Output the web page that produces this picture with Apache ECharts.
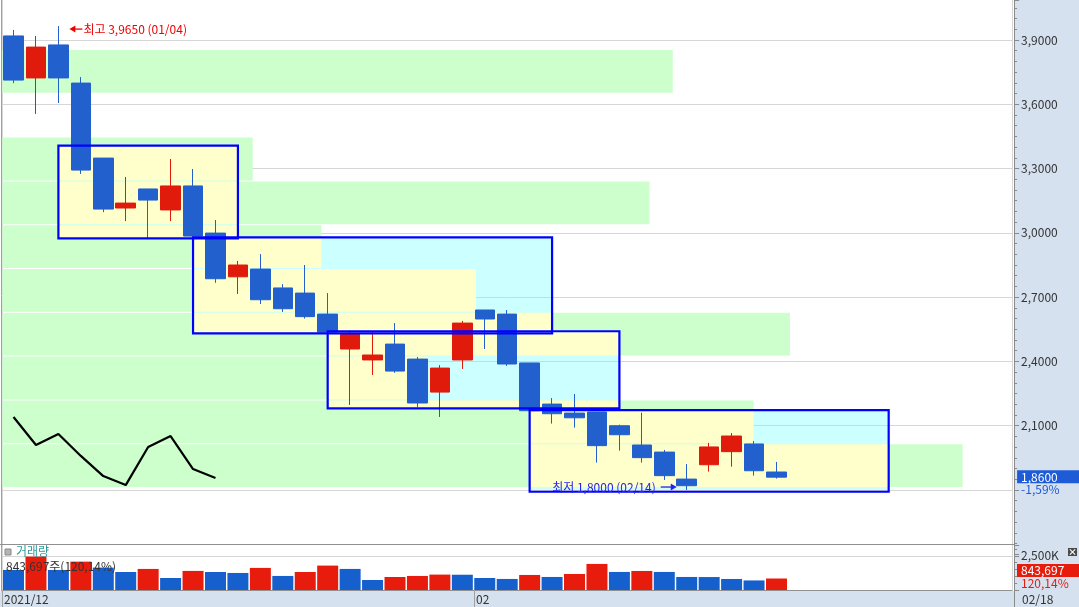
<!DOCTYPE html>
<html><head><meta charset="utf-8">
<script src="https://cdn.jsdelivr.net/npm/echarts@6.0.0/dist/echarts.min.js"></script>
<style>html,body{margin:0;padding:0;background:#fff;overflow:hidden}#main{width:1079px;height:607px}</style>
</head><body><div id="main"></div>
<script>
// ---------------- data ----------------
const dates = ['2021/12/31','2022/01/03','2022/01/04','2022/01/05','2022/01/06','2022/01/07','2022/01/10','2022/01/11','2022/01/12','2022/01/13','2022/01/14','2022/01/18','2022/01/19','2022/01/20','2022/01/21','2022/01/24','2022/01/25','2022/01/26','2022/01/27','2022/01/28','2022/01/31','2022/02/01','2022/02/02','2022/02/03','2022/02/04','2022/02/07','2022/02/08','2022/02/09','2022/02/10','2022/02/11','2022/02/14','2022/02/15','2022/02/16','2022/02/17','2022/02/18'];
const openP  = [3.919,3.723,3.877,3.699,3.349,3.116,3.205,3.107,3.219,2.999,2.795,2.831,2.743,2.719,2.621,2.458,2.407,2.481,2.411,2.257,2.407,2.640,2.621,2.393,2.201,2.159,2.164,2.100,2.010,1.977,1.851,1.918,1.979,2.015,1.884];
const closeP = [3.713,3.867,3.723,3.293,3.111,3.139,3.153,3.219,2.985,2.786,2.850,2.688,2.646,2.609,2.537,2.528,2.430,2.355,2.206,2.369,2.579,2.598,2.388,2.170,2.156,2.137,2.007,2.058,1.951,1.867,1.820,2.001,2.052,1.890,1.860];
const highP  = [3.947,3.919,3.965,3.727,3.349,3.261,3.205,3.345,3.298,3.060,2.869,2.901,2.761,2.850,2.719,2.542,2.539,2.579,2.421,2.383,2.589,2.640,2.640,2.393,2.229,2.248,2.164,2.105,2.161,1.987,1.921,2.020,2.066,2.029,1.931];
const lowP   = [3.699,3.555,3.606,3.275,3.097,3.055,2.971,3.055,2.985,2.767,2.715,2.668,2.631,2.600,2.535,2.197,2.337,2.347,2.187,2.141,2.365,2.458,2.379,2.165,2.110,2.091,1.928,1.984,1.928,1.847,1.800,1.886,1.909,1.867,1.853];
const volumes = [1470000,2450000,1470000,2080000,1640000,1320000,1545000,880000,1400000,1320000,1250000,1620000,1030000,1320000,1790000,1545000,735000,955000,1030000,1130000,1120000,880000,810000,1103000,956000,1176000,1912000,1324000,1397000,1324000,956000,950000,809000,702262,843697];
const lineValues = [2.141,2.010,2.061,1.959,1.865,1.823,2.001,2.052,1.898,1.856];
const priceLabelValues = [2.1,2.4,2.7,3.0,3.3,3.6,3.9];
const volumeTickValue = 2500000;
// price bands of the volume profile (edges) and their widths (% of plot width)
const bandEdges = [1.809,2.014,2.218,2.423,2.627,2.831,3.036,3.240,3.445,3.649,3.853];
const profileVolume = [95.1,74.4,42.1,78.0,46.9,31.6,64.1,24.8,0,66.4];
// boxes: from/to candle index, top/bottom price
const boxStart = [2,8,14,23];
const boxEnd = [10,24,27,39];
const boxTop = [3.407,2.979,2.541,2.173];
const boxBottom = [2.974,2.531,2.181,1.792];
const xLabelIndex = [0,21];
const futureSlots = 10;

// ---------------- helpers ----------------
const n = dates.length;
const cats = dates.concat(Array.from({length:futureSlots},(_,i)=>'f'+i));
const UP='#E01B0C', DOWN='#2160CD', VUP='#E81C0C', VDOWN='#1560CC';
const GREEN='#CCFFCC', YELLOW='#FFFFCC', CYAN='#CCFFFF', BOXLINE='#0000FF';
const FONT='"Noto Sans CJK KR","Noto Sans",sans-serif';
const dec = (v,d)=>v.toFixed(d).replace('.',',');
const thou = v=>String(Math.round(v)).replace(/\B(?=(\d{3})+(?!\d))/g,',');

let hiIdx=0, loIdx=0;
for(let i=0;i<n;i++){ if(highP[i]>highP[hiIdx]) hiIdx=i; if(lowP[i]<lowP[loIdx]) loIdx=i; }
const lastClose=closeP[n-1], prevClose=closeP[n-2];
const chg=(lastClose-prevClose)/prevClose*100;
const lastVol=volumes[n-1], volPct=lastVol/volumes[n-2]*100;

const chart = echarts.init(document.getElementById('main'), null, {renderer:'canvas'});

function bandRender(params, api){
  const w=api.value(0), lo=api.value(1), hi=api.value(2);
  if(!(w>0)) return null;
  const a=api.coord([0,hi]), b=api.coord([w,lo]);
  const top=a[1], bot=b[1]-1;
  const children=[{type:'rect',shape:{x:a[0],y:top,width:b[0]-a[0],height:bot-top},style:{fill:GREEN}}];
  for(let k=0;k<boxStart.length;k++){
    const bx0=chart.convertToPixel({xAxisIndex:0},boxStart[k]);
    const bx1=chart.convertToPixel({xAxisIndex:0},boxEnd[k]);
    const by0=api.coord([0,boxTop[k]])[1], by1=api.coord([0,boxBottom[k]])[1];
    const x0=Math.max(a[0],bx0), x1=Math.min(b[0],bx1), y0=Math.max(top,by0), y1=Math.min(bot,by1);
    if(x1>x0&&y1>y0) children.push({type:'rect',shape:{x:x0,y:y0,width:x1-x0,height:y1-y0},style:{fill:YELLOW}});
  }
  return {type:'group',children};
}
function boxRender(fill){
  return function(params, api){
    const a=api.coord([api.value(0),api.value(2)]), b=api.coord([api.value(1),api.value(3)]);
    const shape={x:a[0],y:a[1],width:b[0]-a[0],height:b[1]-a[1]};
    return fill ? {type:'rect',shape,style:{fill:CYAN}}
                : {type:'rect',shape,style:{fill:'none',stroke:BOXLINE,lineWidth:2.2}};
  };
}
const boxData=boxStart.map((s,k)=>[s,boxEnd[k],boxTop[k],boxBottom[k]]);

function annotRender(params, api){
  const kind=api.value(2);
  const p=api.coord([api.value(0),api.value(1)]);
  const ch=[];
  if(kind===0){
    const x=p[0]+11, y=p[1]+3, col='#F00000';
    ch.push({type:'polygon',shape:{points:[[x,y],[x+6,y-3.5],[x+6,y+3.5]]},style:{fill:col}});
    ch.push({type:'line',shape:{x1:x+5,y1:y,x2:x+13,y2:y},style:{stroke:col,lineWidth:1.3}});
    ch.push({type:'text',x:x+14,y:y,style:{text:'최고 '+dec(highP[hiIdx],4)+' ('+dates[hiIdx].slice(5)+')',fill:col,font:'12px '+FONT,align:'left',verticalAlign:'middle'}});
  } else {
    const x=p[0]-10, y=p[1]-3, col='#2424F0';
    ch.push({type:'polygon',shape:{points:[[x,y],[x-6,y-3.5],[x-6,y+3.5]]},style:{fill:col}});
    ch.push({type:'line',shape:{x1:x-16,y1:y,x2:x-5,y2:y},style:{stroke:col,lineWidth:1.3}});
    ch.push({type:'text',x:x-21,y:y,style:{text:'최저 '+dec(lowP[loIdx],4)+' ('+dates[loIdx].slice(5)+')',fill:col,font:'12px '+FONT,align:'right',verticalAlign:'middle'}});
  }
  return {type:'group',children:ch};
}
function priceTagRender(params, api){
  const cs=params.coordSys;
  const y=api.coord([api.value(0),api.value(1)])[1];
  const x0=cs.x+cs.width+5;
  return {type:'group',children:[
    {type:'rect',shape:{x:x0,y:y-7,width:1079-x0,height:13},style:{fill:'#1E5BD6'}},
    {type:'text',x:x0+4,y:y,style:{text:dec(lastClose,4),fill:'#fff',font:'12px '+FONT,align:'left',verticalAlign:'middle'}},
    {type:'text',x:x0+4,y:y+12,style:{text:dec(chg,2)+'%',fill:'#1E5BD6',font:'12px '+FONT,align:'left',verticalAlign:'middle'}}
  ]};
}
function xLabelRender(params, api){
  const i=api.value(0);
  const p=api.coord([i,0]);
  const half=api.size([1,0])[0]/2;
  const cs=params.coordSys;
  const x=Math.round(p[0]-half)+0.5;
  const txt=i===0?dates[0].slice(0,7):dates[i].slice(5,7);
  return {type:'group',children:[
    {type:'line',shape:{x1:x,y1:cs.y+cs.height,x2:x,y2:607},style:{stroke:'#A0A0A0',lineWidth:1}},
    {type:'text',x:x+1.5,y:cs.y+cs.height+9,style:{text:txt,fill:'#333',font:'12px '+FONT,align:'left',verticalAlign:'middle'}}
  ]};
}

const option = {
  animation:false,
  textStyle:{fontFamily:FONT},
  grid:[
    {left:2.3, right:66.9, top:0, height:554.3},
    {left:2.3, right:66.9, top:545, height:45}
  ],
  xAxis:[
    {type:'category',data:cats,gridIndex:0,boundaryGap:true,z:1,axisLine:{show:false,onZero:false},axisTick:{show:false},axisLabel:{show:false},
     splitLine:{show:true,interval:(i)=>i===21,lineStyle:{color:'#D6D6D6'}}},
    {type:'category',data:cats,gridIndex:1,boundaryGap:true,z:1,axisLine:{show:true,onZero:false,lineStyle:{color:'#909090'}},axisTick:{show:false},axisLabel:{show:false},
     splitLine:{show:true,interval:(i)=>i===21,lineStyle:{color:'#D6D6D6'}}},
    {type:'value',gridIndex:0,min:0,max:100,show:false,axisLine:{show:false,onZero:false},axisTick:{show:false},axisLabel:{show:false},splitLine:{show:false}}
  ],
  yAxis:[
    {type:'value',gridIndex:0,position:'right',offset:2,min:1.5,max:4.0867,interval:0.3,z:1,
     axisLine:{show:true,onZero:false,lineStyle:{color:'#8A8A8A'}},
     axisTick:{show:true,length:5,lineStyle:{color:'#8A8A8A'}},
     minorTick:{show:true,splitNumber:6,length:3,lineStyle:{color:'#8A8A8A'}},
     axisLabel:{color:'#333',fontSize:12,margin:7,formatter:(v)=>priceLabelValues.some(t=>Math.abs(t-v)<1e-6)?dec(v,4):''},
     splitLine:{show:true,showMinLine:false,showMaxLine:false,lineStyle:{color:'#D6D6D6'}}},
    {type:'value',gridIndex:1,position:'right',offset:2,min:0,max:3300000,interval:2500000,z:1,
     axisLine:{show:true,onZero:false,lineStyle:{color:'#8A8A8A'}},
     axisTick:{show:true,length:5,lineStyle:{color:'#8A8A8A'}},
     minorTick:{show:true,splitNumber:5,length:3,lineStyle:{color:'#8A8A8A'}},
     axisLabel:{color:'#333',fontSize:12,margin:7,formatter:(v)=>v===volumeTickValue?thou(v/1000)+'K':''},
     splitLine:{show:true,showMinLine:false,showMaxLine:false,lineStyle:{color:'#D6D6D6'}}}
  ],
  graphic:[
    {type:'rect',z:-10,shape:{x:1014,y:0,width:65,height:607},style:{fill:'#D5E1EF'}},
    {type:'rect',z:-10,shape:{x:0,y:591,width:1014,height:16},style:{fill:'#D5E1EF'}},
    {type:'line',z:50,shape:{x1:1.5,y1:0,x2:1.5,y2:591},style:{stroke:'#A0A0A0',lineWidth:1}},
    {type:'line',z:50,shape:{x1:0,y1:544.5,x2:1014,y2:544.5},style:{stroke:'#909090',lineWidth:1}},
    {type:'line',z:50,shape:{x1:1014.5,y1:590,x2:1014.5,y2:607},style:{stroke:'#8A8A8A',lineWidth:1}},
    {type:'rect',z:50,shape:{x:5,y:549,width:6,height:6},style:{fill:'#B4B4B4',stroke:'#8A8A8A',lineWidth:1}},
    {type:'text',z:50,x:16,y:551,style:{text:'거래량',fill:'#2E9A9A',font:'12px '+FONT,textAlign:'left',textVerticalAlign:'middle',align:'left',verticalAlign:'middle'}},
    {type:'text',z:50,x:6,y:566,style:{text:thou(lastVol)+'주('+dec(volPct,2)+'%)',fill:'#333',font:'12px '+FONT,textAlign:'left',textVerticalAlign:'middle',align:'left',verticalAlign:'middle'}},
    {type:'rect',z:50,shape:{x:1017,y:564,width:62,height:13},style:{fill:'#E81C0C'}},
    {type:'text',z:51,x:1021,y:570.5,style:{text:thou(lastVol),fill:'#fff',font:'12px '+FONT,textAlign:'left',textVerticalAlign:'middle',align:'left',verticalAlign:'middle'}},
    {type:'text',z:51,x:1021,y:583,style:{text:dec(volPct,2)+'%',fill:'#E81C0C',font:'12px '+FONT,textAlign:'left',textVerticalAlign:'middle',align:'left',verticalAlign:'middle'}},
    {type:'rect',z:50,shape:{x:1068,y:548,width:9,height:8},style:{fill:'#4A4A4A'}},
    {type:'text',z:51,x:1072.5,y:552,style:{text:'×',fill:'#fff',font:'bold 9px '+FONT,textAlign:'center',textVerticalAlign:'middle',align:'center',verticalAlign:'middle'}},
    {type:'text',z:50,x:1022,y:599,style:{text:dates[n-1].slice(5),fill:'#333',font:'12px '+FONT,textAlign:'left',textVerticalAlign:'middle',align:'left',verticalAlign:'middle'}}
  ],
  series:[
    {type:'custom',name:'boxFill',xAxisIndex:0,yAxisIndex:0,z:0,silent:true,clip:false,data:boxData,renderItem:boxRender(true)},
    {type:'custom',name:'profile',xAxisIndex:2,yAxisIndex:0,z:2,silent:true,clip:false,
     data:profileVolume.map((v,i)=>[v,bandEdges[i],bandEdges[i+1]]),renderItem:bandRender},
    {type:'line',name:'line',xAxisIndex:0,yAxisIndex:0,z:3,silent:true,symbol:'none',data:lineValues,lineStyle:{color:'#000',width:2.2}},
    {type:'candlestick',name:'price',xAxisIndex:0,yAxisIndex:0,z:3,barWidth:20,silent:true,
     data:dates.map((d,i)=>[openP[i],closeP[i],lowP[i],highP[i]]),
     itemStyle:{color:UP,color0:DOWN,borderColor:UP,borderColor0:DOWN,borderWidth:1}},
    {type:'custom',name:'boxLine',xAxisIndex:0,yAxisIndex:0,z:4,silent:true,clip:false,data:boxData,renderItem:boxRender(false)},
    {type:'custom',name:'annot',xAxisIndex:0,yAxisIndex:0,z:5,silent:true,clip:false,
     data:[[hiIdx,highP[hiIdx],0],[loIdx,lowP[loIdx],1]],renderItem:annotRender},
    {type:'custom',name:'tag',xAxisIndex:0,yAxisIndex:0,z:5,silent:true,clip:false,data:[[n-1,lastClose]],renderItem:priceTagRender},
    {type:'bar',name:'volume',xAxisIndex:1,yAxisIndex:1,z:3,barWidth:21,silent:true,
     data:volumes.map((v,i)=>({value:v,itemStyle:{color:(i>0&&v>volumes[i-1])?VUP:VDOWN}}))},
    {type:'custom',name:'xlabels',xAxisIndex:1,yAxisIndex:1,z:5,silent:true,clip:false,data:xLabelIndex.map(i=>[i,0]),renderItem:xLabelRender}
  ]
};
chart.setOption(option);
</script>
</body></html>
